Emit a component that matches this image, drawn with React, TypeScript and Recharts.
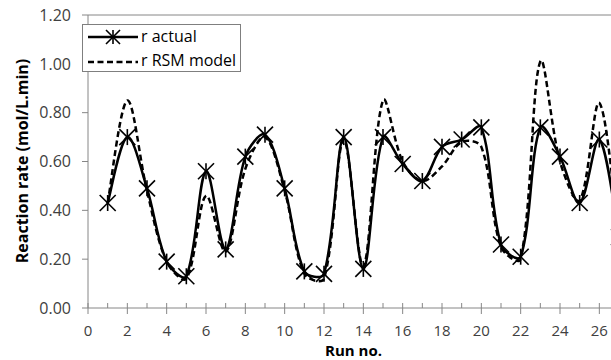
import { LineChart, Line, XAxis, YAxis, ReferenceLine, Legend } from 'recharts';

const runs = [1, 2, 3, 4, 5, 6, 7, 8, 9, 10, 11, 12, 13, 14, 15, 16, 17, 18, 19, 20, 21, 22, 23, 24, 25, 26, 27];
const rActual = [0.43, 0.70, 0.49, 0.19, 0.13, 0.56, 0.24, 0.62, 0.71, 0.49, 0.15, 0.14, 0.70, 0.16, 0.70, 0.59, 0.52, 0.66, 0.69, 0.74, 0.26, 0.21, 0.74, 0.62, 0.43, 0.69, 0.29];
const rModel = [0.43, 0.85, 0.48, 0.19, 0.12, 0.46, 0.23, 0.57, 0.70, 0.48, 0.14, 0.12, 0.69, 0.17, 0.85, 0.60, 0.52, 0.58, 0.68, 0.66, 0.25, 0.20, 1.01, 0.60, 0.44, 0.84, 0.28];

const xTicks = [0, 2, 4, 6, 8, 10, 12, 14, 16, 18, 20, 22, 24, 26];
const xMinor = Array.from({ length: 28 }, (_, i) => i);
const yTicks = [0, 0.2, 0.4, 0.6, 0.8, 1.0, 1.2];
const yMinor = Array.from({ length: 31 }, (_, i) => +(i * 0.04).toFixed(2));

const data = runs.map((run, i) => ({ run, actual: rActual[i], model: rModel[i] }));

const FONT = '"Open Sans", sans-serif';
const AXIS = '#868686';
const TEXT = '#404040';

// Excel-like smoothed line: bezier whose handles are scaled by segment lengths
const excelCurve = (context: any) => {
  let pts: number[][] = [];
  const dist = (a: number[], b: number[]) => Math.hypot(b[0] - a[0], b[1] - a[1]);
  return {
    areaStart() {},
    areaEnd() {},
    lineStart() {
      pts = [];
    },
    lineEnd() {
      if (!pts.length) return;
      context.moveTo(pts[0][0], pts[0][1]);
      for (let i = 0; i < pts.length - 1; i++) {
        const p0 = pts[i - 1] || pts[i];
        const p1 = pts[i];
        const p2 = pts[i + 1];
        const p3 = pts[i + 2] || p2;
        const d01 = dist(p0, p1);
        const d12 = dist(p1, p2);
        const d23 = dist(p2, p3);
        const a = d01 + d12 > 0 ? d12 / (d01 + d12) / 3 : 0;
        const b = d12 + d23 > 0 ? d12 / (d12 + d23) / 3 : 0;
        const fa = i === 0 ? d12 > 0 ? 1 / 3 : 0 : a;
        const fb = i + 2 >= pts.length ? 1 / 3 : b;
        context.bezierCurveTo(
          p1[0] + (p2[0] - p0[0]) * fa * (i === 0 ? 0.5 : 1),
          p1[1] + (p2[1] - p0[1]) * fa * (i === 0 ? 0.5 : 1),
          p2[0] - (p3[0] - p1[0]) * fb * (i + 2 >= pts.length ? 0.5 : 1),
          p2[1] - (p3[1] - p1[1]) * fb * (i + 2 >= pts.length ? 0.5 : 1),
          p2[0],
          p2[1]
        );
      }
    },
    point(x: number, y: number) {
      pts.push([+x, +y]);
    },
  };
};

const Star = ({ cx, cy, r = 8 }: { cx: number; cy: number; r?: number }) => (
  <g stroke="#000" strokeWidth={1.6} fill="none">
    <line x1={cx - r} y1={cy - r} x2={cx + r} y2={cy + r} />
    <line x1={cx - r} y1={cy + r} x2={cx + r} y2={cy - r} />
    <line x1={cx} y1={cy - r} x2={cx} y2={cy + r} />
  </g>
);

const StarDot = (props: any) => {
  const { cx, cy, index } = props;
  if (cx == null || cy == null) return <g key={`s-${index}`} />;
  return (
    <g key={`s-${index}`}>
      <Star cx={cx} cy={cy} />
    </g>
  );
};

const NoTick = () => <g />;

const LegendBox = () => (
  <div
    style={{
      width: 157,
      height: 46,
      border: '1px solid #7f7f7f',
      background: '#fff',
      fontFamily: FONT,
      fontSize: 16,
      color: '#000',
      position: 'relative',
    }}
  >
    <svg width={60} height={46} style={{ position: 'absolute', left: 0, top: 0 }}>
      <line x1={5} y1={12} x2={55} y2={12} stroke="#000" strokeWidth={2.5} />
      <Star cx={30} cy={12} r={7} />
      <line x1={5} y1={37} x2={55} y2={37} stroke="#000" strokeWidth={2.5} strokeDasharray="6 3.5" />
    </svg>
    <div style={{ position: 'absolute', left: 58, top: 0, lineHeight: '23px', whiteSpace: 'nowrap' }}>r actual</div>
    <div style={{ position: 'absolute', left: 58, top: 24, lineHeight: '23px', whiteSpace: 'nowrap' }}>r RSM model</div>
  </div>
);

export default function App() {
  return (
    <div style={{ position: 'fixed', left: 0, top: 0, width: 611, height: 360, overflow: 'hidden', background: '#fff' }}>
      <LineChart width={640} height={360} data={data} margin={{ top: 15, right: 21, left: 0, bottom: 0 }}>
        <XAxis
          dataKey="run"
          type="number"
          domain={[0, 27]}
          ticks={xTicks}
          interval={0}
          height={52}
          stroke={AXIS}
          tickSize={6}
          tickMargin={11}
          tick={{ fill: TEXT, fontSize: 15, fontFamily: FONT }}
          label={{
            value: 'Run no.',
            position: 'insideBottom',
            offset: 4,
            style: { fontFamily: FONT, fontSize: 15, fontWeight: 700, fill: '#000' },
          }}
        />
        <XAxis
          xAxisId="minor"
          dataKey="run"
          type="number"
          domain={[0, 27]}
          ticks={xMinor}
          interval={0}
          mirror
          axisLine={false}
          stroke={AXIS}
          tickSize={5}
          tick={NoTick}
        />
        <YAxis
          domain={[0, 1.2]}
          ticks={yTicks}
          interval={0}
          width={88}
          stroke={AXIS}
          tickSize={6}
          tickMargin={11}
          tickFormatter={(v: number) => v.toFixed(2)}
          tick={{ fill: TEXT, fontSize: 16, fontFamily: FONT }}
          label={{
            content: () => (
              <text
                transform="translate(28,161) rotate(-90)"
                textAnchor="middle"
                fontFamily={FONT}
                fontSize={16}
                fontWeight={700}
                fill="#000"
              >
                Reaction rate (mol/L.min)
              </text>
            ),
          }}
        />
        <YAxis
          yAxisId="minor"
          domain={[0, 1.2]}
          ticks={yMinor}
          interval={0}
          mirror
          axisLine={false}
          stroke={AXIS}
          tickSize={5}
          tick={NoTick}
        />
        <ReferenceLine y={1.2} stroke={AXIS} strokeWidth={1} />
        <Line
          dataKey="model"
          type={excelCurve as any}
          stroke="#000"
          strokeWidth={2.5}
          strokeDasharray="6 3.5"
          dot={false}
          isAnimationActive={false}
        />
        <Line
          dataKey="actual"
          type={excelCurve as any}
          stroke="#000"
          strokeWidth={2.5}
          dot={StarDot}
          isAnimationActive={false}
        />
        <Legend
          layout="vertical"
          align="center"
          verticalAlign="middle"
          content={LegendBox}
          wrapperStyle={{ left: 82, top: 24, width: 159, height: 48 }}
        />
      </LineChart>
    </div>
  );
}
